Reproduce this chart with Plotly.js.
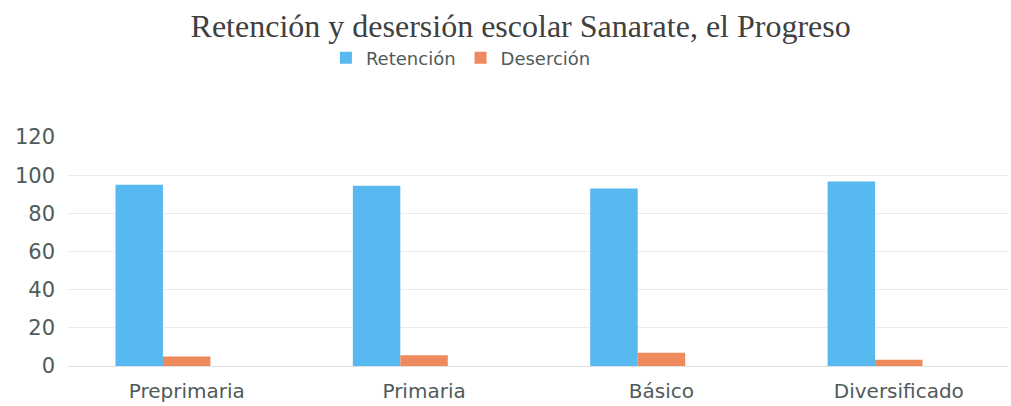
<!DOCTYPE html>
<html>
<head>
<meta charset="utf-8">
<script src="https://cdn.plot.ly/plotly-3.0.1.min.js"></script>
<style>html,body{margin:0;padding:0;background:#fff;}#chart{width:1011px;height:406px;}</style>
</head>
<body>
<div id="chart"></div>
<script>
const categories = ["Preprimaria", "Primaria", "Básico", "Diversificado"];
const retencion = [95, 94.4, 93, 96.7];
const desercion = [5, 5.6, 7, 3.3];
const yTicks = [0, 20, 40, 60, 80, 100, 120];

const yTickFont = {family: "'DejaVu Sans', sans-serif", size: 21, color: "#4F5B5B"};
const xTickFont = {family: "'DejaVu Sans', sans-serif", size: 20, color: "#4F5B5B"};

const data = [
  {type: "bar", name: "Retención", x: categories, y: retencion,
   marker: {color: "#58B9F0"}, width: 0.2, offset: -0.3, hoverinfo: "x+y+name"},
  {type: "bar", name: "Deserción", x: categories, y: desercion,
   marker: {color: "#EE8A5E"}, width: 0.2, offset: -0.1, hoverinfo: "x+y+name"}
];

const layout = {
  width: 1011, height: 406,
  paper_bgcolor: "#ffffff", plot_bgcolor: "#ffffff",
  margin: {l: 68, r: 3, t: 137, b: 40},
  title: {
    text: "Retención y desersión escolar Sanarate, el Progreso",
    font: {family: "'Liberation Serif', 'DejaVu Serif', serif", size: 32, color: "#404040"},
    x: 0.515, xanchor: "center", y: 0.936, yanchor: "middle"
  },
  showlegend: true,
  legend: {
    orientation: "h", x: 0.418, xanchor: "center", y: 1.345, yanchor: "middle",
    font: {family: "'DejaVu Sans', sans-serif", size: 18, color: "#4F5B5B"},
    itemwidth: 30, tracegroupgap: 0, bgcolor: "rgba(0,0,0,0)"
  },
  xaxis: {
    type: "category", range: [-0.5, 3.46], showgrid: false, zeroline: false, showline: false,
    ticks: "", tickfont: xTickFont, ticklabelstandoff: 11, fixedrange: true
  },
  yaxis: {
    range: [0, 120], tickvals: yTicks, ticktext: yTicks.map(String),
    showgrid: true, gridcolor: "#ECECEC", gridwidth: 1,
    zeroline: true, zerolinecolor: "#E0E0E0", zerolinewidth: 1,
    showline: false, ticks: "", tickfont: yTickFont, ticklabelstandoff: 12, fixedrange: true
  },
  bargap: 0.4
};

Plotly.newPlot("chart", data, layout, {displayModeBar: false, staticPlot: true});
</script>
</body>
</html>
